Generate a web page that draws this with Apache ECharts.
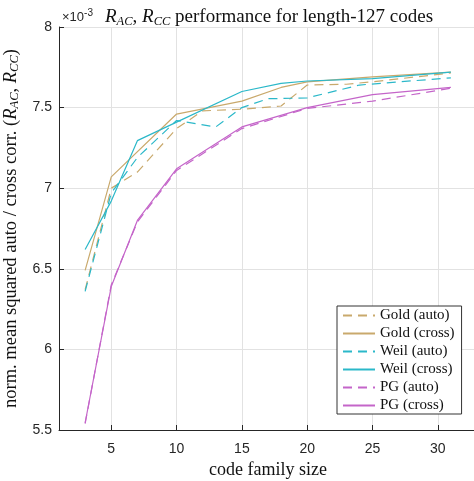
<!DOCTYPE html>
<html><head><meta charset="utf-8">
<script src="https://cdn.jsdelivr.net/npm/echarts@6/dist/echarts.min.js"></script>
<style>html,body{margin:0;padding:0;background:#fff}#c{width:474px;height:481px}</style>
</head><body><div id="c"></div>
<script>
// ---- data (values in units of 1e-3) ----
const xTicks = [5, 10, 15, 20, 25, 30];
const yTicks = [5.5, 6, 6.5, 7, 7.5, 8];

const goldAutoX  = [3, 5, 7, 10, 12, 15, 18, 20, 23, 25, 31];
const goldAutoY  = [6.37, 7.00, 7.10, 7.37, 7.48, 7.49, 7.51, 7.64, 7.645, 7.66, 7.715];

const goldCrossX = [3, 5, 10, 15, 18, 20, 25, 31];
const goldCrossY = [6.49, 7.07, 7.46, 7.54, 7.625, 7.66, 7.69, 7.72];

const weilAutoX  = [3, 5, 7, 10, 13, 15, 17, 20, 24, 31];
const weilAutoY  = [6.36, 6.97, 7.19, 7.42, 7.38, 7.50, 7.555, 7.56, 7.64, 7.685];

const weilCrossX = [3, 5, 7, 10, 15, 18, 20, 25, 31];
const weilCrossY = [6.62, 6.92, 7.295, 7.41, 7.60, 7.65, 7.665, 7.68, 7.72];

const pgAutoX    = [3, 5, 7, 10, 15, 20, 25, 31];
const pgAutoY    = [5.54, 6.40, 6.79, 7.11, 7.37, 7.495, 7.54, 7.62];

const pgCrossX   = [3, 5, 7, 10, 15, 20, 25, 31];
const pgCrossY   = [5.545, 6.39, 6.80, 7.12, 7.38, 7.50, 7.58, 7.625];

const seriesNames = ['Gold (auto)', 'Gold (cross)', 'Weil (auto)', 'Weil (cross)', 'PG (auto)', 'PG (cross)'];

// ---- chart ----
const GOLD = '#C9A96C', WEIL = '#2BB8C9', PG = '#C465C9';
const serif = 'Liberation Serif';
const sans = 'Liberation Sans';
const axisCol = '#262626';

function pairs(xs, ys) { return xs.map((x, i) => [x, ys[i]]); }
function mk(name, xs, ys, color, dashed) {
  return {
    name, type: 'line', data: pairs(xs, ys), symbol: 'none', showSymbol: false,
    lineStyle: { color, width: 1.2, type: dashed ? [9, 6] : 'solid' },
    itemStyle: { color }, animation: false, silent: true
  };
}
function richSet(base, sub, pad) {
  return {
    n: { fontFamily: serif, fontSize: base, fontWeight: 'normal', color: '#111', verticalAlign: 'middle' },
    i: { fontFamily: serif, fontSize: base, fontWeight: 'normal', fontStyle: 'italic', color: '#111', verticalAlign: 'middle' },
    s: { fontFamily: serif, fontSize: sub, fontWeight: 'normal', fontStyle: 'italic', color: '#111', padding: [pad, 0, 0, 0], verticalAlign: 'middle' }
  };
}

const chart = echarts.init(document.getElementById('c'), null, { renderer: 'canvas' });
chart.setOption({
  animation: false,
  backgroundColor: '#fff',
  title: {
    text: '{i|R}{s|AC}{n|, }{i|R}{s|CC}{n| performance for length-127 codes}',
    left: 264, top: 1, textAlign: 'center',
    textStyle: { fontWeight: 'normal', rich: richSet(19, 12.5, 9) }
  },
  graphic: [{
    type: 'text', left: 62, top: 8,
    style: {
      text: '{a|×10}{b|-3}',
      rich: {
        a: { fontFamily: sans, fontSize: 13, fill: axisCol, verticalAlign: 'middle' },
        b: { fontFamily: sans, fontSize: 10, fill: axisCol, padding: [0, 0, 8, 0], verticalAlign: 'middle' }
      }
    }
  }],
  grid: { left: 59, top: 27, width: 418, height: 403, containLabel: false, outerBoundsMode: 'none' },
  legend: {
    data: seriesNames, orient: 'vertical', left: 337, top: 306,
    itemWidth: 32, itemHeight: 14, itemGap: 3,
    padding: [2, 7, 1, 5],
    itemStyle: { opacity: 0, color: 'transparent', borderWidth: 0 },
    backgroundColor: '#fff', borderColor: '#333', borderWidth: 1,
    textStyle: { fontFamily: serif, fontSize: 15, lineHeight: 14, color: '#111' }
  },
  xAxis: {
    type: 'value', min: 1, max: 33,
    axisLine: { show: true, onZero: false, lineStyle: { color: axisCol, width: 1 } },
    axisTick: { show: true, inside: true, length: 5, customValues: xTicks, lineStyle: { color: axisCol } },
    axisLabel: { customValues: xTicks, color: axisCol, fontSize: 14, fontFamily: sans, margin: 12 },
    splitLine: { show: true, lineStyle: { color: '#e2e2e2', width: 1 } },
    name: 'code family size', nameLocation: 'middle', nameGap: 28,
    nameTextStyle: { fontFamily: serif, fontSize: 18, color: '#111' }
  },
  yAxis: {
    type: 'value', min: 5.5, max: 8, interval: 0.5,
    axisLine: { show: true, onZero: false, lineStyle: { color: axisCol, width: 1 } },
    axisTick: { show: true, inside: true, length: 5, lineStyle: { color: axisCol } },
    axisLabel: { color: axisCol, fontSize: 14, fontFamily: sans, margin: 7 },
    splitLine: { show: true, lineStyle: { color: '#e2e2e2', width: 1 } },
    name: '{n|norm. mean squared auto / cross corr. (}{i|R}{s|AC}{n|, }{i|R}{s|CC}{n|)}',
    nameLocation: 'middle', nameGap: 30, nameRotate: 90,
    nameTextStyle: { rich: richSet(18.5, 12.5, 8) }
  },
  series: [
    mk(seriesNames[0], goldAutoX, goldAutoY, GOLD, true),
    mk(seriesNames[1], goldCrossX, goldCrossY, GOLD, false),
    mk(seriesNames[2], weilAutoX, weilAutoY, WEIL, true),
    mk(seriesNames[3], weilCrossX, weilCrossY, WEIL, false),
    mk(seriesNames[4], pgAutoX, pgAutoY, PG, true),
    mk(seriesNames[5], pgCrossX, pgCrossY, PG, false)
  ]
});
</script></body></html>
